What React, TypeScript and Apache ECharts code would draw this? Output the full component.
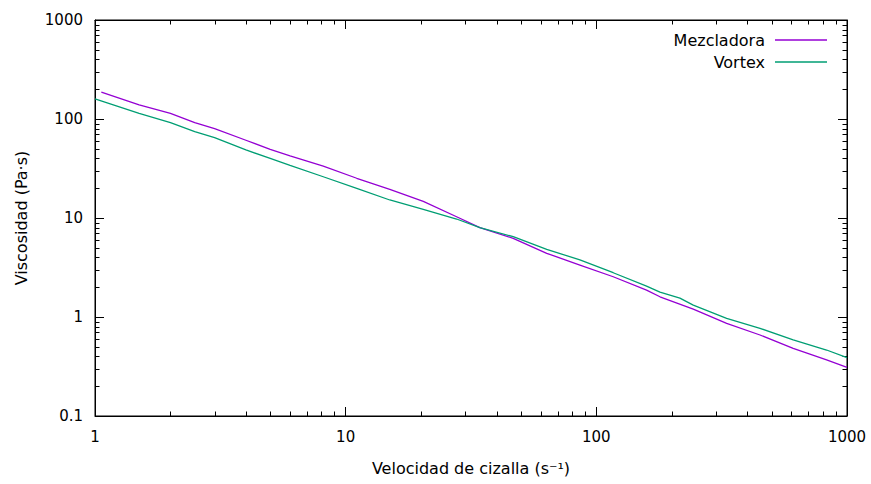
import React, { useEffect, useRef } from "react";
import * as echarts from "echarts";

// Shear rate (s^-1) and viscosity (Pa·s) readings
const mezcladoraX = [1.06, 1.5, 2, 2.5, 3, 4, 5, 6, 8.14, 11.07, 15, 20.4, 27.7, 34.3, 46.6, 63.4, 86, 116.8, 158.6, 179.4, 243.6, 331, 449.8, 610, 829, 1000];
const mezcladoraY = [187, 139, 114, 92, 80, 61, 49.4, 42.5, 33.5, 25.2, 19.5, 14.7, 10.3, 8.0, 6.23, 4.4, 3.35, 2.55, 1.87, 1.6, 1.2, 0.863, 0.658, 0.483, 0.368, 0.31];

const vortexX = [1, 1.5, 2, 2.5, 3, 4, 5, 6, 8.14, 11.07, 15, 20.4, 27.7, 34.3, 46.6, 63.4, 86, 116.8, 158.6, 179.4, 215.5, 243.6, 331, 449.8, 610, 829, 1000];
const vortexY = [160, 114, 92, 74.5, 65, 48.7, 40, 34, 26.1, 19.95, 15.2, 12.2, 9.77, 8.0, 6.47, 4.83, 3.77, 2.8, 2.05, 1.78, 1.55, 1.32, 0.97, 0.769, 0.586, 0.464, 0.388];

const seriesNames = ["Mezcladora", "Vortex"];
const xTickLabels = ["1", "10", "100", "1000"];
const yTickLabels = ["0.1", "1", "10", "100", "1000"];
const xName = "Velocidad de cizalla (s\u207B\u00B9)";
const yName = "Viscosidad (Pa·s)";

const X_MIN = 1, X_MAX = 1000, Y_MIN = 0.1, Y_MAX = 1000;

function minorTicks(min: number, max: number): number[] {
  const out: number[] = [];
  for (let d = min; d < max; d *= 10) {
    for (let k = 2; k <= 9; k++) out.push(+(d * k).toPrecision(6));
  }
  return out;
}

const FONT = "DejaVu Sans";

export default function App() {
  const ref = useRef<HTMLDivElement>(null);
  useEffect(() => {
    if (!ref.current) return;
    const chart = echarts.init(ref.current, null, { renderer: "svg" });
    const xMinor = minorTicks(X_MIN, X_MAX);
    const yMinor = minorTicks(Y_MIN, Y_MAX);
    const minorLen = 4.5;
    const tickStyle = { stroke: "#000", lineWidth: 1 };

    const xLabel = (v: number) => xTickLabels[Math.round(Math.log10(v / X_MIN))] ?? "";
    const yLabel = (v: number) => yTickLabels[Math.round(Math.log10(v / Y_MIN))] ?? "";

    const axisCommon = {
      type: "log" as const,
      logBase: 10,
      axisLine: { show: true, lineStyle: { color: "#000", width: 1 } },
      axisTick: { show: true, inside: true, length: 9, lineStyle: { color: "#000", width: 1 } },
      splitLine: { show: false },
      minorTick: { show: false },
    };

    chart.setOption({
      animation: false,
      backgroundColor: "#fff",
      textStyle: { fontFamily: FONT },
      grid: { left: 95, right: 24, top: 20, bottom: 68, show: true, borderColor: "#000", borderWidth: 1 },
      legend: {
        data: seriesNames,
        orient: "vertical",
        align: "right",
        icon: "rect",
        right: 39,
        top: 27,
        itemWidth: 52,
        itemHeight: 1.5,
        itemGap: 6,
        textStyle: { fontFamily: FONT, fontSize: 16, lineHeight: 16, color: "#000", padding: [0, 5, 0, 0] },
      },
      xAxis: [
        {
          ...axisCommon,
          position: "bottom",
          min: X_MIN,
          max: X_MAX,
          name: xName,
          nameLocation: "middle",
          nameGap: 44,
          nameTextStyle: { fontFamily: FONT, fontSize: 16, color: "#000", verticalAlign: "top" },
          axisLabel: { show: true, margin: 13, fontFamily: FONT, fontSize: 15, color: "#000", formatter: xLabel },
        },
        {
          ...axisCommon,
          position: "top",
          min: X_MIN,
          max: X_MAX,
          axisLabel: { show: false },
        },
      ],
      yAxis: [
        {
          ...axisCommon,
          position: "left",
          min: Y_MIN,
          max: Y_MAX,
          name: yName,
          nameLocation: "middle",
          nameGap: 66,
          nameRotate: 90,
          nameTextStyle: { fontFamily: FONT, fontSize: 16, color: "#000" },
          axisLabel: { show: true, margin: 12, fontFamily: FONT, fontSize: 15, color: "#000", formatter: yLabel },
        },
        {
          ...axisCommon,
          position: "right",
          min: Y_MIN,
          max: Y_MAX,
          axisLabel: { show: false },
        },
      ],
      series: [
        {
          name: seriesNames[0],
          type: "line",
          data: mezcladoraX.map((x, i) => [x, mezcladoraY[i]]),
          showSymbol: false,
          symbol: "none",
          lineStyle: { color: "#9400D3", width: 1.3 },
          itemStyle: { color: "#9400D3" },
          z: 3,
        },
        {
          name: seriesNames[1],
          type: "line",
          data: vortexX.map((x, i) => [x, vortexY[i]]),
          showSymbol: false,
          symbol: "none",
          lineStyle: { color: "#009E73", width: 1.3 },
          itemStyle: { color: "#009E73" },
          z: 3,
        },
        {
          type: "custom",
          silent: true,
          clip: false,
          data: xMinor.map((v) => [v, 1]),
          renderItem: (params: any, api: any) => {
            const cs = params.coordSys;
            const p = api.coord([api.value(0), 1]);
            const x = Math.round(p[0]) + 0.5;
            const b = cs.y + cs.height;
            return {
              type: "group",
              children: [
                { type: "line", shape: { x1: x, y1: b, x2: x, y2: b - minorLen }, style: tickStyle },
                { type: "line", shape: { x1: x, y1: cs.y, x2: x, y2: cs.y + minorLen }, style: tickStyle },
              ],
            };
          },
        },
        {
          type: "custom",
          silent: true,
          clip: false,
          data: yMinor.map((v) => [10, v]),
          renderItem: (params: any, api: any) => {
            const cs = params.coordSys;
            const p = api.coord([10, api.value(1)]);
            const y = Math.round(p[1]) + 0.5;
            const r = cs.x + cs.width;
            return {
              type: "group",
              children: [
                { type: "line", shape: { x1: cs.x, y1: y, x2: cs.x + minorLen, y2: y }, style: tickStyle },
                { type: "line", shape: { x1: r, y1: y, x2: r - minorLen, y2: y }, style: tickStyle },
              ],
            };
          },
        },
      ],
    });
    return () => chart.dispose();
  }, []);

  return (
    <div
      ref={ref}
      style={{ position: "fixed", left: 0, top: 0, width: 871, height: 484, background: "#fff" }}
    />
  );
}
